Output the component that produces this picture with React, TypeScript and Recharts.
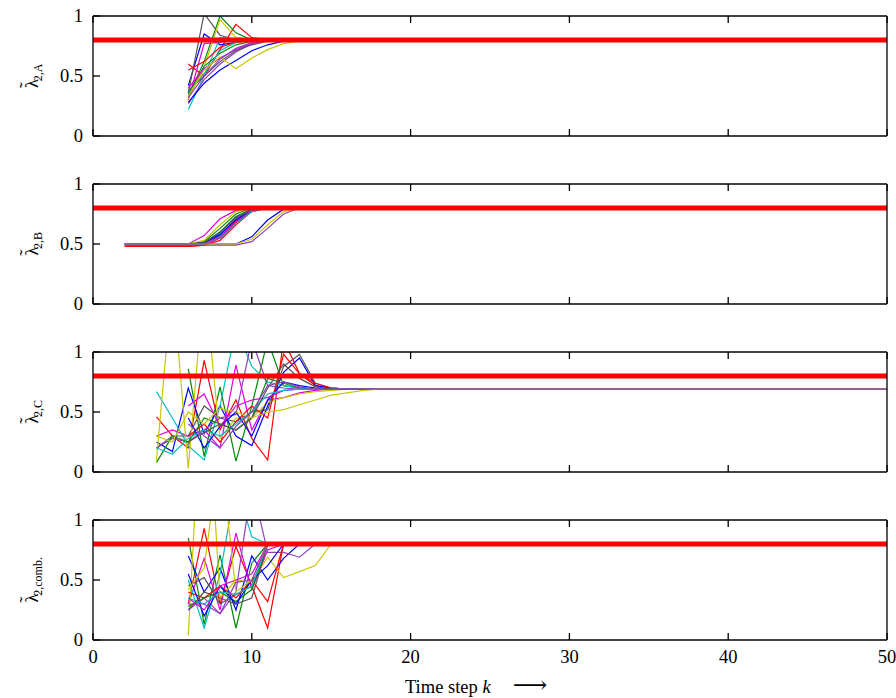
import React from "react";
import { LineChart, Line, XAxis, YAxis, ReferenceLine } from "recharts";

const STEPS = Array.from({ length: 51 }, (_, k) => k);
const X_TICKS = [0, 10, 20, 30, 40, 50];
const Y_TICKS = [0, 0.5, 1];
const TARGET = 0.8;
const C_STEADY = 0.69;
const LAST_STEP = 50;

// panel A: every run starts at k = 6
const aStarts = [6, 6, 6, 6, 6, 6, 6, 6, 6, 6, 6, 6, 6, 6, 6, 6];
const aValues = [
  [0.6, 0.5, 0.72, 0.93, 0.82, 0.8],
  [0.33, 0.62, 1.0, 0.86, 0.8],
  [0.42, 0.85, 0.76, 0.78, 0.8],
  [0.3, 0.77, 0.78, 0.8],
  [0.22, 0.5, 0.82, 0.81, 0.8],
  [0.36, 1.02, 0.84, 0.8],
  [0.31, 0.58, 0.97, 0.82, 0.8],
  [0.27, 0.47, 0.6, 0.7, 0.77, 0.8],
  [0.55, 0.62, 0.74, 0.78, 0.8],
  [0.35, 0.58, 0.69, 0.76, 0.79, 0.8],
  [0.28, 0.44, 0.55, 0.63, 0.71, 0.76, 0.79, 0.8],
  [0.4, 0.56, 0.65, 0.72, 0.77, 0.8],
  [0.37, 0.52, 0.71, 0.78, 0.8],
  [0.38, 0.5, 0.62, 0.71, 0.76, 0.79, 0.8],
  [0.33, 0.55, 0.66, 0.56, 0.65, 0.72, 0.77, 0.79, 0.8],
  [0.32, 0.5, 0.64, 0.73, 0.78, 0.8],
];

// panel B: every run starts at k = 2
const bStarts = [2, 2, 2, 2, 2, 2, 2, 2, 2, 2, 2, 2, 2, 2, 2, 2];
const bValues = [
  [0.48, 0.48, 0.48, 0.48, 0.48, 0.49, 0.55, 0.69, 0.78, 0.8],
  [0.5, 0.5, 0.5, 0.5, 0.5, 0.52, 0.63, 0.75, 0.8],
  [0.5, 0.5, 0.5, 0.5, 0.5, 0.5, 0.5, 0.5, 0.56, 0.7, 0.79, 0.8],
  [0.5, 0.5, 0.5, 0.5, 0.5, 0.57, 0.71, 0.78, 0.8],
  [0.5, 0.5, 0.5, 0.5, 0.5, 0.51, 0.59, 0.72, 0.79, 0.8],
  [0.49, 0.49, 0.49, 0.49, 0.49, 0.5, 0.57, 0.71, 0.78, 0.8],
  [0.5, 0.5, 0.5, 0.5, 0.5, 0.53, 0.66, 0.77, 0.8],
  [0.49, 0.49, 0.49, 0.49, 0.49, 0.49, 0.49, 0.49, 0.52, 0.63, 0.75, 0.8],
  [0.48, 0.48, 0.48, 0.48, 0.48, 0.49, 0.53, 0.66, 0.77, 0.8],
  [0.5, 0.5, 0.5, 0.5, 0.5, 0.51, 0.6, 0.73, 0.79, 0.8],
  [0.5, 0.5, 0.5, 0.5, 0.5, 0.51, 0.58, 0.7, 0.78, 0.8],
  [0.49, 0.49, 0.49, 0.49, 0.49, 0.5, 0.56, 0.68, 0.77, 0.8],
  [0.5, 0.5, 0.5, 0.5, 0.5, 0.5, 0.55, 0.67, 0.77, 0.8],
  [0.5, 0.5, 0.5, 0.5, 0.5, 0.51, 0.6, 0.72, 0.79, 0.8],
  [0.5, 0.5, 0.5, 0.5, 0.5, 0.5, 0.5, 0.5, 0.54, 0.66, 0.77, 0.8],
  [0.5, 0.5, 0.5, 0.5, 0.5, 0.5, 0.55, 0.68, 0.78, 0.8],
];

// panel C: runs start at k = 4 or 6 and settle near 0.69
const cStarts = [4, 6, 4, 4, 4, 4, 4, 4, 6, 4, 6, 6, 4, 6, 4, 6];
const cValues = [
  [0.46, 0.3, 0.2, 0.93, 0.35, 0.6, 0.28, 0.1, 1.1, 0.82, 0.72, 0.7, 0.69],
  [0.86, 0.13, 0.71, 0.09, 0.55, 1.1, 0.72, 0.7, 0.69],
  [0.25, 0.17, 0.7, 0.32, 0.55, 0.3, 0.22, 0.55, 0.83, 0.95, 0.72, 0.7, 0.69],
  [0.3, 0.35, 0.3, 0.35, 0.2, 0.89, 0.35, 0.6, 0.62, 0.66, 0.68, 0.69],
  [0.67, 0.45, 0.22, 0.1, 0.55, 1.2, 0.88, 0.75, 0.72, 0.7, 0.69],
  [0.2, 0.3, 0.3, 0.55, 0.45, 0.42, 0.5, 0.52, 0.88, 0.98, 0.74, 0.7, 0.69],
  [0.1, 1.6, 0.03, 1.6, 0.28, 0.45, 0.45, 0.58, 0.62, 0.65, 0.67, 0.68, 0.69],
  [0.2, 0.28, 0.25, 0.35, 0.45, 0.48, 1.1, 0.72, 0.7, 0.69],
  [0.3, 0.4, 0.25, 0.42, 0.55, 0.45, 0.98, 0.82, 0.74, 0.7, 0.69],
  [0.08, 0.3, 0.25, 0.45, 0.4, 0.35, 0.45, 0.78, 0.74, 0.7, 0.69],
  [0.45, 0.2, 0.38, 0.5, 0.3, 0.6, 0.75, 0.72, 0.7, 0.69],
  [0.55, 0.65, 0.38, 0.55, 0.6, 0.62, 0.68, 0.69],
  [0.2, 0.15, 0.28, 0.35, 0.3, 0.4, 0.5, 0.65, 0.68, 0.69],
  [0.25, 0.33, 0.4, 0.35, 0.45, 0.7, 0.9, 0.78, 0.71, 0.69],
  [0.3, 0.25, 0.5, 0.4, 0.53, 0.5, 0.45, 0.5, 0.52, 0.56, 0.6, 0.64, 0.66, 0.68, 0.69],
  [0.4, 0.3, 0.2, 0.38, 0.5, 0.72, 0.75, 0.71, 0.69],
];

// panel D: combined estimate, every run starts at k = 6
const dStarts = [6, 6, 6, 6, 6, 6, 6, 6, 6, 6, 6, 6, 6, 6, 6, 6];
const dValues = [
  [0.3, 0.93, 0.3, 0.78, 0.45, 0.1, 0.8],
  [0.85, 0.13, 0.71, 0.1, 0.64, 0.8],
  [0.7, 0.4, 0.6, 0.25, 0.7, 0.5, 0.68, 0.8],
  [0.3, 0.68, 0.25, 0.89, 0.42, 0.75, 0.8],
  [0.5, 0.1, 0.55, 1.3, 0.86, 0.8],
  [0.45, 0.52, 0.3, 0.38, 0.45, 0.8],
  [0.04, 2.5, 0.35, 0.5, 0.48, 0.69, 0.52, 0.57, 0.62, 0.8],
  [0.25, 0.35, 0.22, 0.4, 1.3, 0.73, 0.73, 0.69, 0.8],
  [0.4, 0.35, 0.45, 0.35, 0.5, 0.32, 0.8],
  [0.28, 0.35, 0.4, 0.32, 0.42, 0.8],
  [0.55, 0.2, 0.45, 0.3, 0.5, 0.62, 0.8],
  [0.35, 0.25, 0.45, 0.5, 0.55, 0.8],
  [0.35, 0.3, 0.4, 0.38, 0.45, 0.8],
  [0.25, 0.4, 0.35, 0.3, 0.35, 0.8],
  [0.42, 0.6, 1.6, 0.4, 0.5, 0.8],
  [0.3, 0.3, 0.22, 0.48, 0.5, 0.8],
];

const PALETTE = ["#ff0000", "#008c00", "#0000ff", "#e000e0", "#00c0c0", "#555555", "#c8c800", "#9040c0"];
const FONT = '"Liberation Serif", "DejaVu Serif", serif';
const FONT_SIZE = 18.5;
const TICK_LEN = 7;

function buildRows(starts: number[], values: number[][], tail?: number) {
  const rows: Record<string, number>[] = STEPS.map((k) => ({ k }));
  values.forEach((vals, i) => {
    vals.forEach((v, j) => {
      rows[starts[i] + j][`s${i}`] = v;
    });
    if (tail !== undefined) rows[LAST_STEP][`s${i}`] = tail;
  });
  return rows;
}

const panels = [
  { rows: buildRows(aStarts, aValues), n: aValues.length, sub: "2,A" },
  { rows: buildRows(bStarts, bValues), n: bValues.length, sub: "2,B" },
  { rows: buildRows(cStarts, cValues, C_STEADY), n: cValues.length, sub: "2,C" },
  { rows: buildRows(dStarts, dValues), n: dValues.length, sub: "2,comb." },
];

const axisStyle = { stroke: "#000", strokeWidth: 1.3 };
const textProps = { fill: "#000", fontSize: FONT_SIZE, fontFamily: FONT };

// gnuplot style: ticks point into the plot
function BottomTick({ x, y, payload, showLabel }: any) {
  return (
    <g>
      <line x1={x} y1={y} x2={x} y2={y - TICK_LEN} {...axisStyle} />
      {showLabel && (
        <text x={x} y={y + 23} textAnchor="middle" {...textProps}>
          {payload.value}
        </text>
      )}
    </g>
  );
}

function TopTick({ x, y }: any) {
  return <line x1={x} y1={y} x2={x} y2={y + TICK_LEN} {...axisStyle} />;
}

function LeftTick({ x, y, payload }: any) {
  return (
    <g>
      <line x1={x} y1={y} x2={x + TICK_LEN} y2={y} {...axisStyle} />
      <text x={x - 10} y={y + 6} textAnchor="end" {...textProps}>
        {payload.value}
      </text>
    </g>
  );
}

function RightTick({ x, y }: any) {
  return <line x1={x} y1={y} x2={x - TICK_LEN} y2={y} {...axisStyle} />;
}

function Panel({ rows, n, showX }: { rows: any[]; n: number; showX: boolean }) {
  return (
    <LineChart
      width={896}
      height={showX ? 160 : 143}
      data={rows}
      margin={{ top: 9, right: 0, bottom: showX ? 0 : 12, left: 0 }}
    >
      <XAxis
        dataKey="k"
        type="number"
        domain={[0, 50]}
        ticks={X_TICKS}
        height={showX ? 30 : 1}
        tickSize={0}
        tickMargin={0}
        axisLine={axisStyle}
        tickLine={false}
        tick={(p: any) => <BottomTick {...p} showLabel={showX} />}
      />
      <XAxis
        xAxisId="top"
        orientation="top"
        dataKey="k"
        type="number"
        domain={[0, 50]}
        ticks={X_TICKS}
        height={1}
        tickSize={0}
        tickMargin={0}
        axisLine={axisStyle}
        tickLine={false}
        tick={(p: any) => <TopTick {...p} />}
      />
      <YAxis
        type="number"
        domain={[0, 1]}
        ticks={Y_TICKS}
        allowDataOverflow
        width={93}
        tickSize={0}
        tickMargin={0}
        axisLine={axisStyle}
        tickLine={false}
        tick={(p: any) => <LeftTick {...p} />}
      />
      <YAxis
        yAxisId="right"
        orientation="right"
        type="number"
        domain={[0, 1]}
        ticks={Y_TICKS}
        width={9}
        tickSize={0}
        tickMargin={0}
        axisLine={axisStyle}
        tickLine={false}
        tick={(p: any) => <RightTick {...p} />}
      />
      {Array.from({ length: n }, (_, i) => (
        <Line
          key={i}
          dataKey={`s${i}`}
          stroke={PALETTE[i % PALETTE.length]}
          strokeWidth={1.2}
          dot={false}
          connectNulls
          isAnimationActive={false}
        />
      ))}
      <ReferenceLine y={TARGET} stroke="#ff0000" strokeWidth={5} />
    </LineChart>
  );
}

export default function App() {
  const plotTops = [16, 184, 352, 520];
  return (
    <div style={{ position: "absolute", left: 0, top: 0, width: 896, height: 698, background: "#fff" }}>
      {panels.map((p, i) => (
        <div key={i} style={{ position: "absolute", left: 0, top: plotTops[i] - 10 }}>
          <Panel rows={p.rows} n={p.n} showX={i === panels.length - 1} />
        </div>
      ))}
      <svg width={896} height={698} style={{ position: "absolute", left: 0, top: 0, pointerEvents: "none" }}>
        {panels.map((p, i) => (
          <text
            key={i}
            transform={`translate(38,${plotTops[i] + 60}) rotate(-90)`}
            textAnchor="middle"
            {...textProps}
          >
            {"\u03BB"}
            <tspan dx={-9.5} dy={-5}>
              {"\u02DC"}
            </tspan>
            <tspan fontSize={12} dx={1} dy={9}>
              {p.sub}
            </tspan>
          </text>
        ))}
        <text x={476} y={693} textAnchor="middle" {...textProps}>
          Time step <tspan fontStyle="italic">k</tspan>
          <tspan dx={22} fontSize={24}>
            {"\u27F6"}
          </tspan>
        </text>
      </svg>
    </div>
  );
}
